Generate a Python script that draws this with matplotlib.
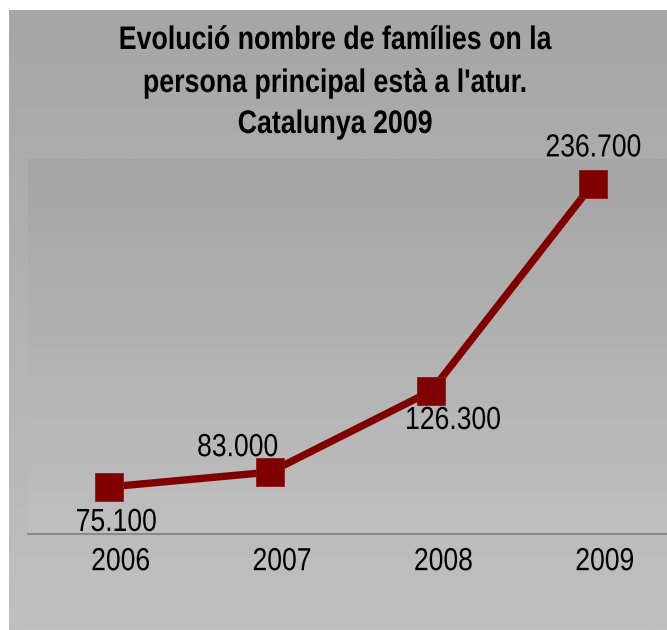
import numpy as np
import matplotlib
matplotlib.use("Agg")
import matplotlib.pyplot as plt
from matplotlib.transforms import ScaledTranslation, Affine2D
from matplotlib import patheffects

# ---- data ----
years = ["2006", "2007", "2008", "2009"]
families = [75100, 83000, 126300, 236700]
value_labels = ["75.100", "83.000", "126.300", "236.700"]
title_lines = ["Evolució nombre de famílies on la",
               "persona principal està a l'atur.",
               "Catalunya 2009"]

FONT = ["Liberation Sans", "DejaVu Sans"]
SX = 0.83  # horizontal condensing (narrow face look)


class Condense(patheffects.AbstractPathEffect):
    """Draw the text squeezed horizontally about its own centre."""
    def __init__(self, text_artist, sx):
        super().__init__()
        self.t = text_artist
        self.sx = sx

    def draw_path(self, renderer, gc, tpath, affine, rgbFace=None):
        bb = self.t.get_window_extent(renderer)
        cx = 0.5 * (bb.x0 + bb.x1)
        a = affine + Affine2D().translate(-cx, 0).scale(self.sx, 1).translate(cx, 0)
        renderer.draw_path(gc, tpath, a, rgbFace)


def condense(t, sx=SX):
    t.set_path_effects([Condense(t, sx)])
    return t


W, H = 667, 630
fig = plt.figure(figsize=(W / 100, H / 100), dpi=100, facecolor="white")

def px(x, y):
    return x / W, 1 - y / H

# outer gray box with vertical gradient
bg = fig.add_axes([9 / W, 0, (W - 9) / W, (H - 10) / H], zorder=0)
grad = np.linspace(0xa6, 0xc0, 256)[:, None] / 255.0
bg.imshow(np.dstack([grad, grad, grad]), aspect="auto", extent=(0, 1, 0, 1),
          transform=bg.transAxes, interpolation="bilinear")
bg.set_axis_off()

# plot area
left, top, bottom, right = 28, 159, 534, 673.5
ax = fig.add_axes([left / W, (H - bottom) / H, (right - left) / W, (bottom - top) / H],
                  zorder=1)
ax.patch.set_visible(False)
g2 = np.linspace(0xa5, 0xbf, 256)[:, None] / 255.0
ax.imshow(np.dstack([g2, g2, g2]), aspect="auto", extent=(0, 1, 0, 1),
          transform=ax.transAxes, interpolation="bilinear", zorder=0)

x = np.arange(len(years))
ax.plot(x, families, color="#800000", lw=5.3, marker="s", ms=20,
        markerfacecolor="#800000", markeredgecolor="#8c1a1a", markeredgewidth=0.6,
        zorder=3, clip_on=False)

ax.set_xlim(-0.5, 3.5)
ax.set_ylim(50000, 250000)

# data labels (offsets in points: dx, dy to baseline)
offsets = [(5.4, -31.7), (-23.4, 11.5), (15.5, -27.4), (0.4, 19.8)]
for xi, v, lab, off in zip(x, families, value_labels, offsets):
    t = ax.annotate(lab, (xi, v), xytext=off, textcoords="offset points",
                    ha="center", va="baseline", fontsize=23, family=FONT,
                    color="black", zorder=4, annotation_clip=False)
    condense(t)

ax.set_xticks(x)
ax.set_xticklabels(years, fontsize=23, family=FONT, color="black")
ax.tick_params(axis="x", length=0, pad=9.5)
for lbl in ax.get_xticklabels():
    lbl.set_transform(lbl.get_transform() + ScaledTranslation(12 / 100, 0, fig.dpi_scale_trans))
    condense(lbl)
ax.set_yticks([])
for s in ["left", "right", "top"]:
    ax.spines[s].set_visible(False)
ax.spines["bottom"].set_color("#808080")
ax.spines["bottom"].set_linewidth(1.2)

# title lines (baselines in pixels)
for line, yb in zip(title_lines, [49, 92, 133]):
    fx, fy = px(335, yb)
    t = fig.text(fx, fy, line, ha="center", va="baseline", fontsize=23.5,
                 fontweight="bold", family=FONT, color="black", zorder=5)
    condense(t, 0.82)

fig.savefig("out.png", dpi=100, facecolor="white")
